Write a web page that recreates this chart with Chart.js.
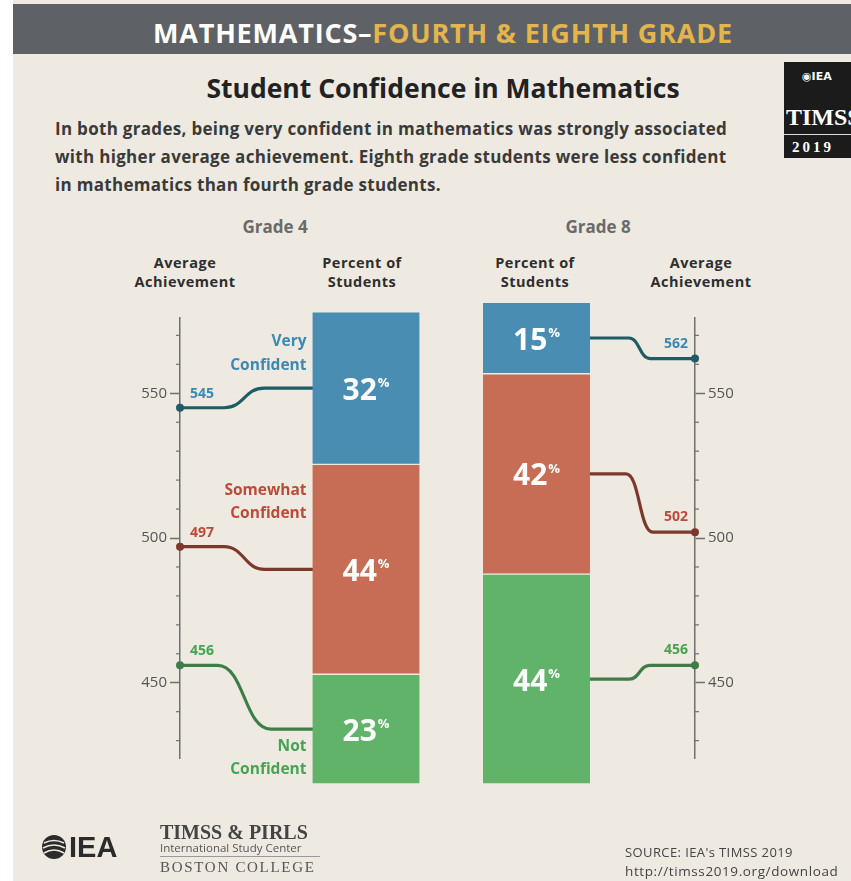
<!DOCTYPE html>
<html>
<head>
<meta charset="utf-8">
<script src="https://cdn.jsdelivr.net/npm/chart.js@4/dist/chart.umd.min.js"></script>
<style>
  html, body { margin: 0; padding: 0; background: #fff; }
  #page { position: relative; width: 851px; height: 881px; overflow: hidden; background: #fff;
          font-family: "Open Sans", "Liberation Sans", sans-serif; }
  #bg { position: absolute; left: 13px; top: 0; right: 0; bottom: 0; background: #eeeae2; }
  #band { position: absolute; left: 13px; top: 4px; right: 0; height: 50px; background: #5e6267; }
  canvas { position: absolute; left: 0; top: 0; }
  .t { position: absolute; white-space: nowrap; line-height: 1; }
  .c { transform: translateX(-50%); text-align: center; }
  .b { font-weight: bold; }
  #logo { position: absolute; left: 784px; top: 62px; width: 67px; height: 96px; background: #1b1b1b; }
  .serif { font-family: "Liberation Serif", "DejaVu Serif", serif; }
</style>
</head>
<body>
<div id="page">
  <div id="bg"></div>
  <div id="band"></div>

  <div class="t c b" style="left:443px; top:19px; font-size:27px; letter-spacing:0.8px; color:#fff;">MATHEMATICS–<span style="color:#e3b54c;">FOURTH &amp; EIGHTH GRADE</span></div>

  <div id="logo">
    <div class="t b" style="left:18px; top:9px; font-size:11px; color:#fff; font-family:'DejaVu Sans',sans-serif;">◉IEA</div>
    <div class="t b serif" style="left:2px; top:43px; font-size:24px; color:#fff;">TIMSS</div>
    <div style="position:absolute; left:0; top:72px; width:67px; height:1px; background:#ddd;"></div>
    <div class="t b serif" style="left:8px; top:78px; font-size:15px; letter-spacing:3px; color:#fff;">2019</div>
  </div>

  <div class="t c b" style="left:443px; top:75px; font-size:26.5px; color:#222;">Student Confidence in Mathematics</div>
  <div class="t b" style="left:55px; top:120px; font-size:17px; letter-spacing:0.3px; color:#3a3a3a;">In both grades, being very confident in mathematics was strongly associated</div>
  <div class="t b" style="left:55px; top:148px; font-size:17px; letter-spacing:0.3px; color:#3a3a3a;">with higher average achievement. Eighth grade students were less confident</div>
  <div class="t b" style="left:55px; top:176px; font-size:17px; letter-spacing:0.3px; color:#3a3a3a;">in mathematics than fourth grade students.</div>

  <div class="t c b" style="left:275px; top:218px; font-size:17px; color:#6a6a6a;">Grade 4</div>
  <div class="t c b" style="left:598px; top:218px; font-size:17px; color:#6a6a6a;">Grade 8</div>

  <div class="t c b" style="left:185px; top:256px; font-size:14.5px; letter-spacing:0.5px; color:#2e2e2e;">Average</div>
  <div class="t c b" style="left:185px; top:275px; font-size:14.5px; letter-spacing:0.5px; color:#2e2e2e;">Achievement</div>
  <div class="t c b" style="left:362px; top:256px; font-size:14.5px; letter-spacing:0.5px; color:#2e2e2e;">Percent of</div>
  <div class="t c b" style="left:362px; top:275px; font-size:14.5px; letter-spacing:0.5px; color:#2e2e2e;">Students</div>
  <div class="t c b" style="left:535px; top:256px; font-size:14.5px; letter-spacing:0.5px; color:#2e2e2e;">Percent of</div>
  <div class="t c b" style="left:535px; top:275px; font-size:14.5px; letter-spacing:0.5px; color:#2e2e2e;">Students</div>
  <div class="t c b" style="left:701px; top:256px; font-size:14.5px; letter-spacing:0.5px; color:#2e2e2e;">Average</div>
  <div class="t c b" style="left:701px; top:275px; font-size:14.5px; letter-spacing:0.5px; color:#2e2e2e;">Achievement</div>

  <canvas id="chart" width="851" height="881"></canvas>

  <svg style="position:absolute; left:41px; top:834px;" width="26" height="26" viewBox="0 0 26 26">
    <circle cx="13" cy="13" r="12" fill="#2b2b2b"/>
    <path d="M3 9 Q13 4 23 9" stroke="#eeeae2" stroke-width="1.6" fill="none"/>
    <path d="M2 14 Q13 8 24 14" stroke="#eeeae2" stroke-width="1.6" fill="none"/>
    <path d="M3 19 Q13 13 23 19" stroke="#eeeae2" stroke-width="1.6" fill="none"/>
  </svg>
  <div class="t b" style="left:69px; top:833px; font-size:29px; color:#2b2b2b; font-family:'Liberation Sans',sans-serif;">IEA</div>
  <div class="t b serif" style="left:160px; top:822px; font-size:20px; color:#444;">TIMSS &amp; PIRLS</div>
  <div class="t" style="left:160px; top:842px; font-size:11.5px; color:#555;">International Study Center</div>
  <div style="position:absolute; left:160px; top:856px; width:160px; height:1px; background:#999;"></div>
  <div class="t serif" style="left:160px; top:860px; font-size:15px; letter-spacing:1.7px; color:#555;">BOSTON COLLEGE</div>

  <div class="t" style="left:625px; top:846px; font-size:13px; letter-spacing:0.4px; color:#444;">SOURCE: IEA's TIMSS 2019</div>
  <div class="t" style="left:625px; top:865px; font-size:13.5px; letter-spacing:0.6px; color:#444;">http://timss2019.org/download</div>
</div>

<script>
// ---------------- data ----------------
const categories = ['Very Confident', 'Somewhat Confident', 'Not Confident'];
const grade4Percent = [32, 44, 23];
const grade8Percent = [15, 42, 44];
const grade4Achievement = [545, 497, 456];
const grade8Achievement = [562, 502, 456];
const achievementTickLabels = [450, 500, 550];

// ---------------- styles / layout ----------------
const FONT = '"Open Sans", "Liberation Sans", sans-serif';
const barColors  = ['#4a8db3', '#c86d55', '#62b36a'];
const lineColors = ['#1f5d66', '#7d382c', '#3e7d47'];
const textColors = ['#3b88b2', '#bd4a36', '#46a352'];
const BG = '#eeeae2';
const AXIS = '#6f6f6f';
// column positions on the hidden x scale (0 = grade 4 axis, 3 = grade 8 axis)
const COL = { g4Axis: 0, g4Bar: 1.0835, g8Bar: 2.0766, g8Axis: 3 };
// category label line offsets relative to the connector end (grade 4)
const catLabelOffsets = [[-46, -22], [-79, -56], [17, 40]];

// bars: stack bottom-up (Not, Somewhat, Very)
const stackOrder = [2, 1, 0];
const barDatasets = stackOrder.map(i => ({
  type: 'bar',
  label: categories[i],
  data: [{ x: COL.g4Bar, y: grade4Percent[i] }, { x: COL.g8Bar, y: grade8Percent[i] }],
  backgroundColor: barColors[i],
  borderColor: BG,
  borderWidth: { top: 1, bottom: 1, left: 0, right: 0 },
  borderSkipped: false,
  barThickness: 107,
  xAxisID: 'x',
  yAxisID: 'yPct',
  stack: 'pct',
  clip: false
}));
const pointDatasets = categories.map((c, i) => ({
  type: 'scatter',
  label: c + ' (achievement)',
  data: [{ x: COL.g4Axis, y: grade4Achievement[i] }, { x: COL.g8Axis, y: grade8Achievement[i] }],
  backgroundColor: lineColors[i],
  borderWidth: 0,
  pointRadius: 4,
  xAxisID: 'x',
  yAxisID: 'y',
  clip: false
}));

function barMeta(chart, i) { return chart.getDatasetMeta(stackOrder.indexOf(i)); }
function pointMeta(chart, i) { return chart.getDatasetMeta(barDatasets.length + i); }

function achAxis(position) {
  return {
    type: 'linear', position, min: 424, max: 576, beginAtZero: false,
    afterFit: s => { s.width = 60; },
    border: { color: AXIS, width: 1.5 },
    grid: {
      drawOnChartArea: false, drawTicks: true, tickLength: 10, tickWidth: 1.5,
      tickColor: ctx => (ctx.tick && achievementTickLabels.includes(ctx.tick.value)) ? AXIS : 'rgba(0,0,0,0)'
    },
    ticks: {
      stepSize: 10, includeBounds: false, autoSkip: false, padding: 3,
      color: '#555', font: { family: FONT, size: 15 },
      callback: v => achievementTickLabels.includes(v) ? String(v) : ''
    }
  };
}

const overlay = {
  id: 'overlay',
  beforeDatasetsDraw(chart) {
    const ctx = chart.ctx;
    ctx.save();
    ctx.lineWidth = 3.2;
    ctx.lineCap = 'round';
    ctx.lineJoin = 'round';
    categories.forEach((c, i) => {
      const bars = barMeta(chart, i).data;
      const pts = pointMeta(chart, i).data;
      ctx.strokeStyle = lineColors[i];
      // grade 4: axis point -> bar left edge
      {
        const p = pts[0], b = bars[0];
        const x0 = p.x, y0 = p.y;
        const x1 = b.x - b.width / 2, y1 = (b.y + b.base) / 2;
        const dy = Math.abs(y1 - y0);
        const cx = (x0 + x1) / 2 - 2, w = 34 + 0.3 * dy;
        ctx.beginPath();
        ctx.moveTo(x0, y0);
        ctx.lineTo(cx - w / 2, y0);
        ctx.bezierCurveTo(cx, y0, cx, y1, cx + w / 2, y1);
        ctx.lineTo(x1, y1);
        ctx.stroke();
      }
      // grade 8: bar right edge -> axis point
      {
        const p = pts[1], b = bars[1];
        const x0 = b.x + b.width / 2, y0 = (b.y + b.base) / 2;
        const x1 = p.x, y1 = p.y;
        const dy = Math.abs(y1 - y0);
        const cx = (x0 + x1) / 2 - 3, w = 18 + 0.15 * dy;
        ctx.beginPath();
        ctx.moveTo(x0, y0);
        ctx.lineTo(cx - w / 2, y0);
        ctx.bezierCurveTo(cx, y0, cx, y1, cx + w / 2, y1);
        ctx.lineTo(x1, y1);
        ctx.stroke();
      }
    });
    ctx.restore();
  },
  afterDraw(chart) {
    const ctx = chart.ctx;
    ctx.save();
    // minor ticks on achievement axes
    ['y', 'y2'].forEach(id => {
      const s = chart.scales[id];
      const xA = id === 'y' ? chart.chartArea.left : chart.chartArea.right;
      const dir = id === 'y' ? -1 : 1;
      ctx.strokeStyle = AXIS;
      ctx.lineWidth = 1.2;
      s.ticks.forEach(t => {
        if (achievementTickLabels.includes(t.value)) return;
        const y = s.getPixelForValue(t.value);
        ctx.beginPath();
        ctx.moveTo(xA, y);
        ctx.lineTo(xA + dir * 4, y);
        ctx.stroke();
      });
    });

    categories.forEach((c, i) => {
      const bars = barMeta(chart, i).data;
      const pts = pointMeta(chart, i).data;
      // percent labels inside bars
      [grade4Percent[i], grade8Percent[i]].forEach((v, k) => {
        const b = bars[k];
        const cy = (b.y + b.base) / 2 + 3;
        ctx.font = 'bold 30px ' + FONT;
        const w1 = ctx.measureText(String(v)).width;
        ctx.font = 'bold 13px ' + FONT;
        const w2 = ctx.measureText('%').width;
        const x0 = b.x - (w1 + w2 + 1) / 2;
        ctx.fillStyle = '#ffffff';
        ctx.textBaseline = 'middle';
        ctx.textAlign = 'left';
        ctx.font = 'bold 30px ' + FONT;
        ctx.fillText(String(v), x0, cy);
        ctx.font = 'bold 13px ' + FONT;
        ctx.fillText('%', x0 + w1 + 1, cy - 8);
      });
      // achievement value labels
      ctx.font = 'bold 14px ' + FONT;
      ctx.fillStyle = textColors[i];
      ctx.textBaseline = 'middle';
      ctx.textAlign = 'left';
      ctx.fillText(String(grade4Achievement[i]), pts[0].x + 10, pts[0].y - 14);
      ctx.textAlign = 'right';
      ctx.fillText(String(grade8Achievement[i]), pts[1].x - 7, pts[1].y - 15);
      // category labels (grade 4 side)
      const b = bars[0];
      const yEnd = (b.y + b.base) / 2;
      const xR = b.x - b.width / 2 - 6;
      const words = c.split(' ');
      ctx.font = 'bold 15.5px ' + FONT;
      ctx.textAlign = 'right';
      ctx.fillText(words[0], xR, yEnd + catLabelOffsets[i][0]);
      ctx.fillText(words.slice(1).join(' '), xR, yEnd + catLabelOffsets[i][1]);
    });
    ctx.restore();
  }
};

Chart.defaults.font.family = FONT;
new Chart(document.getElementById('chart'), {
  type: 'bar',
  data: { datasets: [...barDatasets, ...pointDatasets] },
  options: {
    responsive: false,
    animation: false,
    devicePixelRatio: 1,
    layout: { padding: { left: 120, right: 96, top: 318, bottom: 123 } },
    plugins: { legend: { display: false }, tooltip: { enabled: false } },
    scales: {
      x: { type: 'linear', min: 0, max: 3, offset: false, display: false, stacked: true, grid: { offset: false } },
      y: achAxis('left'),
      y2: achAxis('right'),
      yPct: { type: 'linear', display: false, stacked: true, min: 5.45, max: 97.69, beginAtZero: false }
    }
  },
  plugins: [overlay]
});
</script>
</body>
</html>
